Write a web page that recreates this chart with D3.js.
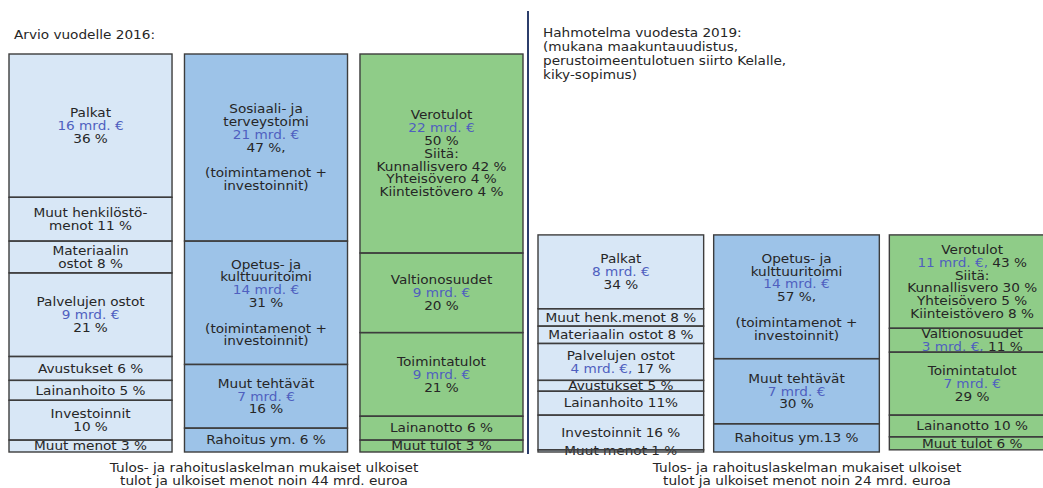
<!DOCTYPE html>
<html>
<head>
<meta charset="utf-8">
<script src="https://cdn.jsdelivr.net/npm/d3@7"></script>
<style>
	body { margin: 0; background: #fff; }
	text { font-family: "DejaVu Sans", Verdana, sans-serif; font-size: 12.4px; fill: #262626; }
	.blue { fill: #4f5fbf; }
</style>
</head>
<body>
<div id="chart"></div>
<script>
// totals, billion euros
var totals = [44, 24];

// 2016: cost types
var menot2016 = ["Palkat|16 mrd. €|36 %", "Muut henkilöstö-|menot 11 %", "Materiaalin|ostot 8 %",
	"Palvelujen ostot|9 mrd. €|21 %", "Avustukset  6 %", "Lainanhoito 5 %", "Investoinnit|10 %", "Muut menot 3 %"];
var menot2016Pct = [36, 11, 8, 21, 6, 5, 10, 3];

// 2016: tasks
var tehtavat2016 = ["Sosiaali- ja|terveystoimi|21 mrd. €|47 %,||(toimintamenot +|investoinnit)",
	"Opetus- ja|kulttuuritoimi|14 mrd. €|31 %||(toimintamenot +|investoinnit)",
	"Muut tehtävät|7 mrd. €|16 %", "Rahoitus ym. 6 %"];
var tehtavat2016Pct = [47, 31, 16, 6];

// 2016: income
var tulot2016 = ["Verotulot|22 mrd. €|50 %|Siitä:|Kunnallisvero 42 %|Yhteisövero 4 %|Kiinteistövero 4 %",
	"Valtionosuudet|9 mrd. €|20 %", "Toimintatulot|9 mrd. €|21 %", "Lainanotto 6 %", "Muut tulot 3 %"];
var tulot2016Pct = [50, 20, 21, 6, 3];

// 2019 sketch
var menot2019 = ["Palkat|8 mrd. €|34 %", "Muut henk.menot 8 %", "Materiaalin ostot 8 %",
	"Palvelujen ostot|4 mrd. €, 17 %", "Avustukset 5 %", "Lainanhoito 11%", "Investoinnit 16 %", "Muut menot 1 %"];
var menot2019Pct = [34, 8, 8, 17, 5, 11, 16, 1];

var tehtavat2019 = ["Opetus- ja|kulttuuritoimi|14 mrd. €|57 %,||(toimintamenot +|investoinnit)",
	"Muut tehtävät|7 mrd. €|30 %", "Rahoitus ym.13 %"];
var tehtavat2019Pct = [57, 30, 13];

var tulot2019 = ["Verotulot|11 mrd. €, 43 %|Siitä:|Kunnallisvero 30 %|Yhteisövero 5 %|Kiinteistövero 8 %",
	"Valtionosuudet|3 mrd. €, 11 %", "Toimintatulot|7 mrd. €|29 %", "Lainanotto 10 %", "Muut tulot 6 %"];
var tulot2019Pct = [43, 11, 29, 10, 6];

var titles = [["Arvio vuodelle 2016:"],
	["Hahmotelma vuodesta 2019:", "(mukana maakuntauudistus,", "perustoimeentulotuen siirto Kelalle,", "kiky-sopimus)"]];
var captions = [["Tulos- ja rahoituslaskelman mukaiset ulkoiset", "tulot ja ulkoiset menot noin 44 mrd. euroa"],
	["Tulos- ja rahoituslaskelman mukaiset ulkoiset", "tulot ja ulkoiset menot noin 24 mrd. euroa"]];

var width = 1043, height = 488;
var fills = ["#d8e7f6", "#9dc3e8", "#8fcc88"];
var lineH = 12.8;
var stretch = 1.1; // the source text is a bit wide

var svg = d3.select("#chart").append("svg")
	.attr("width", width)
	.attr("height", height);

var y = d3.scaleLinear().domain([0, 44]).range([452, 54]);

var panels = [
	{ total: totals[0], range: [9, 523], pad: 0.071, cols: [[menot2016, menot2016Pct], [tehtavat2016, tehtavat2016Pct], [tulot2016, tulot2016Pct]] },
	{ total: totals[1], range: [538, 1055], pad: 0.057, cols: [[menot2019, menot2019Pct], [tehtavat2019, tehtavat2019Pct], [tulot2019, tulot2019Pct]] }
];

// first item on top, stacked downwards from the total
function stack(labels, pct, total){
	var acc = total;
	return labels.map(function(l, i){
		var v = pct[i] / 100 * total;
		var d = { label: l, top: acc, bottom: acc - v };
		acc -= v;
		return d;
	});
}

function addLine(t, s){
	// the "x mrd. €" part is blue
	var k = s.indexOf("€");
	if(k < 0){ t.text(s); return; }
	var head = s.slice(0, k + 1), rest = s.slice(k + 1);
	if(rest.charAt(0) === ","){ head += ","; rest = rest.slice(1); }
	t.append("tspan").attr("class", "blue").text(head);
	if(rest) t.append("tspan").text(rest);
}

function wide(x0){
	return "translate(" + x0 + ",0) scale(" + stretch + ",1)";
}

panels.forEach(function(p){
	var x = d3.scaleBand().domain([0, 1, 2]).range(p.range).paddingInner(p.pad);

	p.cols.forEach(function(c, ci){
		var segs = stack(c[0], c[1], p.total);
		var g = svg.append("g");
		var cx = x(ci) + x.bandwidth() / 2;

		g.selectAll("rect.fill")
				.data(segs)
			.enter().append("rect")
				.attr("class", "fill")
				.attr("x", x(ci))
				.attr("width", x.bandwidth())
				.attr("y", function(d){ return y(d.top); })
				.attr("height", function(d){ return y(d.bottom) - y(d.top); })
				.style("fill", fills[ci]);

		g.selectAll("text")
				.data(segs)
			.enter().append("text")
				.attr("text-anchor", "middle")
				.attr("transform", wide(cx))
				.each(function(d){
					var lines = d.label.split("|");
					var mid = (y(d.top) + y(d.bottom)) / 2;
					var top = mid - (lines.length - 1) * lineH / 2;
					var t = d3.select(this);
					lines.forEach(function(s, i){
						if(!s) return;
						var row = t.append("tspan")
							.attr("x", 0)
							.attr("y", top + i * lineH)
							.attr("dy", "0.35em");
						addLine(row, s);
					});
				});

		g.selectAll("rect.edge")
				.data(segs)
			.enter().append("rect")
				.attr("class", "edge")
				.attr("x", x(ci))
				.attr("width", x.bandwidth())
				.attr("y", function(d){ return y(d.top); })
				.attr("height", function(d){ return y(d.bottom) - y(d.top); })
				.style("fill", "none")
				.style("stroke", "#3d3d3d")
				.style("stroke-width", 1.4);
	});
});

// divider
svg.append("line")
	.attr("x1", 528).attr("x2", 528)
	.attr("y1", 11).attr("y2", 454)
	.style("stroke", "#2c3e6b")
	.style("stroke-width", 2);

// titles
var titlePos = [[14, 35], [543, 33]];
titles.forEach(function(lines, i){
	svg.append("text")
		.attr("transform", wide(titlePos[i][0]))
		.selectAll("tspan")
			.data(lines)
		.enter().append("tspan")
			.attr("x", 0)
			.attr("y", function(d, j){ return titlePos[i][1] + j * 14; })
			.attr("dy", "0.35em")
			.text(function(d){ return d; });
});

// captions
var capX = [264, 807];
captions.forEach(function(lines, i){
	svg.append("text")
		.attr("text-anchor", "middle")
		.attr("transform", wide(capX[i]))
		.selectAll("tspan")
			.data(lines)
		.enter().append("tspan")
			.attr("x", 0)
			.attr("y", function(d, j){ return 468 + j * 12.5; })
			.attr("dy", "0.35em")
			.text(function(d){ return d; });
});
</script>
</body>
</html>
